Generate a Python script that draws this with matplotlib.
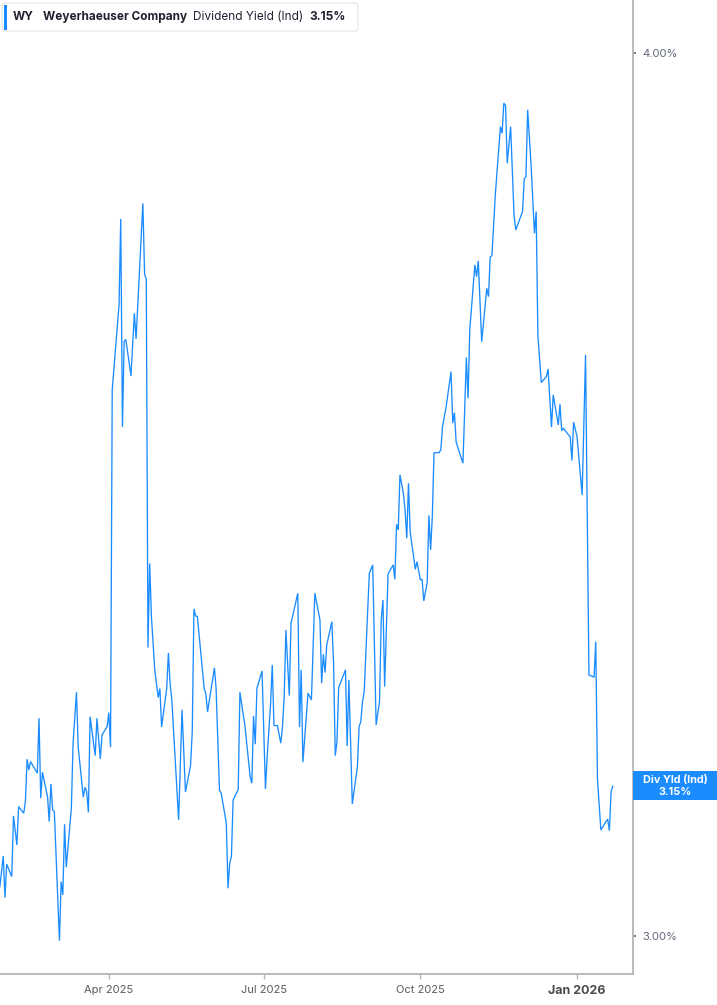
import matplotlib
matplotlib.use("Agg")
import matplotlib.pyplot as plt
import pandas as pd
from matplotlib.patches import FancyBboxPatch, Rectangle
from matplotlib.ticker import FixedLocator, NullLocator

plt.rcParams['font.family'] = ['Inter', 'DejaVu Sans']

# ---------------- data ----------------
dates = [
    "2025-01-27", "2025-01-29", "2025-01-30", "2025-01-31", "2025-02-03", "2025-02-04", "2025-02-06", "2025-02-07",
    "2025-02-10", "2025-02-11", "2025-02-12", "2025-02-13", "2025-02-14", "2025-02-18", "2025-02-19", "2025-02-20",
    "2025-02-21", "2025-02-24", "2025-02-25", "2025-02-26", "2025-02-27", "2025-02-28", "2025-03-03", "2025-03-04",
    "2025-03-05", "2025-03-06", "2025-03-07", "2025-03-10", "2025-03-11", "2025-03-13", "2025-03-14", "2025-03-17",
    "2025-03-18", "2025-03-19", "2025-03-20", "2025-03-21", "2025-03-24", "2025-03-25", "2025-03-27", "2025-03-28",
    "2025-03-31", "2025-04-01", "2025-04-02", "2025-04-03", "2025-04-07", "2025-04-08", "2025-04-09", "2025-04-10",
    "2025-04-11", "2025-04-14", "2025-04-16", "2025-04-17", "2025-04-21", "2025-04-22", "2025-04-23", "2025-04-24",
    "2025-04-25", "2025-04-26", "2025-04-28", "2025-04-30", "2025-05-01", "2025-05-02", "2025-05-05", "2025-05-06",
    "2025-05-07", "2025-05-08", "2025-05-12", "2025-05-14", "2025-05-16", "2025-05-19", "2025-05-20", "2025-05-21",
    "2025-05-22", "2025-05-23", "2025-05-27", "2025-05-28", "2025-05-29", "2025-06-02", "2025-06-03", "2025-06-05",
    "2025-06-06", "2025-06-09", "2025-06-10", "2025-06-11", "2025-06-12", "2025-06-13", "2025-06-16", "2025-06-17",
    "2025-06-20", "2025-06-23", "2025-06-24", "2025-06-25", "2025-06-26", "2025-06-27", "2025-06-30", "2025-07-02",
    "2025-07-03", "2025-07-05", "2025-07-06", "2025-07-07", "2025-07-09", "2025-07-11", "2025-07-12", "2025-07-13",
    "2025-07-14", "2025-07-16", "2025-07-17", "2025-07-21", "2025-07-22", "2025-07-23", "2025-07-24", "2025-07-27",
    "2025-07-29", "2025-07-31", "2025-08-03", "2025-08-04", "2025-08-05", "2025-08-06", "2025-08-07", "2025-08-10",
    "2025-08-11", "2025-08-12", "2025-08-13", "2025-08-14", "2025-08-18", "2025-08-19", "2025-08-20", "2025-08-22",
    "2025-08-25", "2025-08-26", "2025-08-27", "2025-08-28", "2025-08-29", "2025-09-01", "2025-09-03", "2025-09-05",
    "2025-09-07", "2025-09-08", "2025-09-09", "2025-09-10", "2025-09-12", "2025-09-15", "2025-09-16", "2025-09-17",
    "2025-09-18", "2025-09-19", "2025-09-21", "2025-09-22", "2025-09-23", "2025-09-24", "2025-09-25", "2025-09-28",
    "2025-09-29", "2025-10-01", "2025-10-02", "2025-10-03", "2025-10-05", "2025-10-06", "2025-10-07", "2025-10-08",
    "2025-10-09", "2025-10-12", "2025-10-13", "2025-10-14", "2025-10-16", "2025-10-19", "2025-10-20", "2025-10-21",
    "2025-10-22", "2025-10-26", "2025-10-28", "2025-10-29", "2025-10-30", "2025-10-31", "2025-11-02", "2025-11-03",
    "2025-11-04", "2025-11-06", "2025-11-09", "2025-11-10", "2025-11-11", "2025-11-12", "2025-11-14", "2025-11-17",
    "2025-11-18", "2025-11-19", "2025-11-20", "2025-11-21", "2025-11-23", "2025-11-25", "2025-11-26", "2025-11-30",
    "2025-12-01", "2025-12-02", "2025-12-03", "2025-12-05", "2025-12-07", "2025-12-08", "2025-12-09", "2025-12-11",
    "2025-12-14", "2025-12-15", "2025-12-17", "2025-12-18", "2025-12-21", "2025-12-22", "2025-12-23", "2025-12-24",
    "2025-12-27", "2025-12-28", "2025-12-29", "2025-12-30", "2026-01-01", "2026-01-04", "2026-01-06", "2026-01-08",
    "2026-01-11", "2026-01-12", "2026-01-13", "2026-01-15", "2026-01-18", "2026-01-19", "2026-01-20", "2026-01-21",
    "2026-01-22",
]

div_yield = [
    3.0486, 3.0793, 3.0378, 3.0710, 3.0586, 3.1197, 3.0903, 3.1291,
    3.1224, 3.1342, 3.1778, 3.1667, 3.1753, 3.1633, 3.2205, 3.1377,
    3.1644, 3.1393, 3.1139, 3.1523, 3.1258, 3.1240, 2.9954, 3.0536,
    3.0404, 3.1112, 3.0680, 3.1275, 3.1944, 3.2479, 3.1908, 3.1387,
    3.1489, 3.1444, 3.1233, 3.2222, 3.1815, 3.2205, 3.1781, 3.2030,
    3.2117, 3.2264, 3.1902, 3.5839, 3.6845, 3.7892, 3.5410, 3.6409,
    3.6433, 3.6003, 3.6744, 3.6439, 3.8084, 3.7219, 3.7152, 3.2955,
    3.3868, 3.3296, 3.2713, 3.2423, 3.2519, 3.2114, 3.2519, 3.2897,
    3.2566, 3.2398, 3.1156, 3.2293, 3.1441, 3.1713, 3.2065, 3.3372,
    3.3296, 3.3290, 3.2519, 3.2461, 3.2271, 3.2737, 3.2519, 3.1455,
    3.1431, 3.1122, 3.0470, 3.0720, 3.0786, 3.1359, 3.1468, 3.2479,
    3.2117, 3.1598, 3.1530, 3.2229, 3.1933, 3.2521, 3.2705, 3.1471,
    3.1805, 3.2352, 3.2769, 3.2128, 3.2128, 3.1944, 3.2117, 3.2432,
    3.3144, 3.2443, 3.3217, 3.3543, 3.2111, 3.2716, 3.1747, 3.2469,
    3.2398, 3.3543, 3.3253, 3.2574, 3.2884, 3.2687, 3.2983, 3.3234,
    3.2787, 3.1815, 3.1960, 3.2527, 3.2716, 3.1915, 3.2609, 3.1318,
    3.1701, 3.2117, 3.2169, 3.2380, 3.2485, 3.3762, 3.3854, 3.2135,
    3.2380, 3.3253, 3.3470, 3.2538, 3.3754, 3.3854, 3.3696, 3.4305,
    3.4241, 3.4861, 3.4653, 3.4466, 3.4149, 3.4766, 3.4222, 3.3806,
    3.3890, 3.3688, 3.3696, 3.3459, 3.3663, 3.4406, 3.4019, 3.4391,
    3.5115, 3.5115, 3.5146, 3.5414, 3.5627, 3.6053, 3.5453, 3.5576,
    3.5234, 3.4994, 3.6221, 3.5742, 3.6546, 3.6806, 3.7329, 3.7186,
    3.7378, 3.6407, 3.7045, 3.6945, 3.7423, 3.7442, 3.8190, 3.9048,
    3.8964, 3.9348, 3.9317, 3.8586, 3.9048, 3.7942, 3.7756, 3.7983,
    3.8389, 3.8418, 3.9262, 3.8565, 3.7715, 3.7983, 3.6486, 3.5926,
    3.5995, 3.6085, 3.5407, 3.5781, 3.5433, 3.5673, 3.5367, 3.5395,
    3.5318, 3.5298, 3.5024, 3.5465, 3.5298, 3.4634, 3.6250, 3.2662,
    3.2638, 3.3018, 3.1574, 3.1054, 3.1139, 3.1163, 3.1047, 3.1441,
    3.1500,
]

tick_dates = ["2025-04-01", "2025-07-01", "2025-10-01", "2026-01-01"]
tick_labels = ["Apr 2025", "Jul 2025", "Oct 2025", "Jan 2026"]
ytick_values = [3.0, 4.0]
ytick_labels = ["3.00%", "4.00%"]

ticker_symbol = "WY"
company_name = "Weyerhaeuser Company"
metric_name = "Dividend Yield (Ind)"
last_value_label = "3.15%"
badge_title = "Div Yld (Ind)"

# ---------------- figure ----------------
W, H = 717, 1005
BLUE = "#1a8cff"
fig = plt.figure(figsize=(W / 100, H / 100), dpi=100)
fig.patch.set_facecolor("white")

ax = fig.add_axes([0, 31 / H, 633 / W, 974 / H])
ax.plot(pd.to_datetime(dates), div_yield, color=BLUE, lw=0.95, solid_joinstyle="miter")

ax.set_yscale("log")
ax.set_ylim(2.9631, 4.0692)
ax.set_xlim(pd.Timestamp("2025-01-27 02:00"), pd.Timestamp("2026-02-02 21:00"))

for s in ["left", "top"]:
    ax.spines[s].set_visible(False)
for s in ["right", "bottom"]:
    ax.spines[s].set_color("#b5b5b5")
    ax.spines[s].set_linewidth(1.3)

ax.yaxis.tick_right()
ax.yaxis.set_major_locator(FixedLocator(ytick_values))
ax.yaxis.set_minor_locator(NullLocator())
ax.set_yticklabels(ytick_labels)
ax.tick_params(axis="y", which="major", length=2.5, width=1.2, color="#666666",
               pad=4.0, labelsize=8, labelcolor="#5f6778")

ax.set_xticks(pd.to_datetime(tick_dates))
ax.set_xticklabels(tick_labels)
ax.xaxis.set_minor_locator(NullLocator())
ax.tick_params(axis="x", length=3.5, width=1.0, color="#b5b5b5", pad=4.5,
               labelsize=8, labelcolor="#5a5a5a")
xl = ax.get_xticklabels()
xl[-1].set_fontweight("bold")
xl[-1].set_fontsize(9)
xl[-1].set_color("#4a4a4a")

# ---------------- legend header ----------------
def fx(px):
    return px / W

def fy(py):
    return 1 - py / H

box = FancyBboxPatch((fx(2), fy(31)), fx(358) - fx(2), fy(3) - fy(31),
                     boxstyle="round,pad=0,rounding_size=0.004",
                     transform=fig.transFigure, facecolor="white",
                     edgecolor="#e3e3e3", lw=0.8, zorder=5)
fig.patches.append(box)
bar = Rectangle((fx(4), fy(30)), fx(7) - fx(4), fy(5) - fy(30),
                transform=fig.transFigure, facecolor=BLUE, edgecolor="none", zorder=6)
fig.patches.append(bar)

hdr_y = fy(17)
hdr_kw = dict(fontsize=8.5, color="#1f2330", va="center", zorder=10)
fig.text(fx(13), hdr_y, ticker_symbol, fontweight="bold", **hdr_kw)
fig.text(fx(43), hdr_y, company_name, fontweight="bold", **hdr_kw)
fig.text(fx(193), hdr_y, metric_name, **hdr_kw)
fig.text(fx(309), hdr_y, last_value_label, fontweight="bold", **hdr_kw)

# ---------------- last value badge ----------------
badge = Rectangle((fx(633), fy(800)), fx(717) - fx(633), fy(771) - fy(800),
                  transform=fig.transFigure, facecolor=BLUE, edgecolor="none", zorder=5)
fig.patches.append(badge)
fig.text(fx(675), fy(779.5), badge_title, fontsize=7.8, fontweight="bold", color="white",
         ha="center", va="center", zorder=10)
fig.text(fx(675), fy(791.5), last_value_label, fontsize=7.8, fontweight="bold", color="white",
         ha="center", va="center", zorder=10)

fig.savefig("out.png", dpi=100, facecolor="white")
